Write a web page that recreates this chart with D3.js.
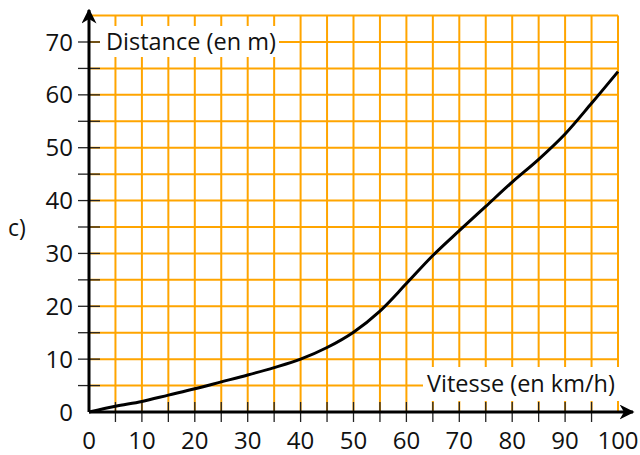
<!DOCTYPE html>
<html>
<head>
<meta charset="utf-8">
<script src="https://cdn.jsdelivr.net/npm/d3@7"></script>
<style>
  html, body { margin: 0; padding: 0; background: #fff; }
  svg { display: block; font-family: "Open Sans", sans-serif; }
</style>
</head>
<body>
<svg id="chart" width="640" height="455"></svg>
<script>
// ── Data ────────────────────────────────────────────────────────────────────
const vitesse  = [0, 5, 10, 15, 20, 25, 30, 35, 40, 45, 50, 55, 60, 65, 70, 75, 80, 85, 90, 95, 100];
const distance = [0, 1.1, 2.0, 3.2, 4.4, 5.7, 7.0, 8.4, 10.0, 12.2, 15.1, 19.1, 24.3, 29.6, 34.3, 38.9, 43.5, 47.8, 52.6, 58.4, 64.4];
const xTicks = [0, 10, 20, 30, 40, 50, 60, 70, 80, 90, 100];
const yTicks = [0, 10, 20, 30, 40, 50, 60, 70];

// ── Layout ──────────────────────────────────────────────────────────────────
const X0 = 89, X1 = 618;   // 0 → 100
const Y0 = 412, Y1 = 42;   // 0 → 70
const GRID = "#ffa500";

const svg = d3.select("#chart");
const x = d3.scaleLinear().domain([0, 100]).range([X0, X1]);
const y = d3.scaleLinear().domain([0, 70]).range([Y0, Y1]);

// grid (every 5 units)
const gx = d3.range(5, 101, 5);
const gy = d3.range(5, 76, 5);
const grid = svg.append("g");
grid.selectAll(".v").data(gx).join("line")
  .attr("x1", d => x(d)).attr("x2", d => x(d))
  .attr("y1", y(0)).attr("y2", y(75))
  .attr("stroke", GRID).attr("stroke-width", 2);
grid.selectAll(".h").data(gy).join("line")
  .attr("x1", x(0)).attr("x2", x(100))
  .attr("y1", d => y(d)).attr("y2", d => y(d))
  .attr("stroke", GRID).attr("stroke-width", 2);

// white boxes behind axis titles
svg.append("rect").attr("x", 100).attr("y", 26).attr("width", 179).attr("height", 31).attr("fill", "#fff");
svg.append("rect").attr("x", 423).attr("y", 367).attr("width", 200).attr("height", 34).attr("fill", "#fff");

// ticks
const tickG = svg.append("g").attr("stroke", "#222").attr("stroke-width", 1.3);
tickG.selectAll(".yt").data(d3.range(5, 71, 5)).join("line")
  .attr("x1", X0 - 11).attr("x2", X0 + 11)
  .attr("y1", d => y(d)).attr("y2", d => y(d));
tickG.selectAll(".xt").data(d3.range(5, 96, 5)).join("line")
  .attr("x1", d => x(d)).attr("x2", d => x(d))
  .attr("y1", Y0 - 10).attr("y2", Y0 + 10);

// axes with arrows
svg.append("defs").append("marker")
  .attr("id", "arr").attr("viewBox", "0 0 10 10")
  .attr("refX", 9).attr("refY", 5)
  .attr("markerWidth", 5).attr("markerHeight", 5)
  .attr("markerUnits", "strokeWidth")
  .attr("orient", "auto")
  .append("path").attr("d", "M0,0 L10,5 L0,10 L3,5 Z").attr("fill", "#000");

svg.append("line").attr("x1", X0).attr("x2", 633).attr("y1", Y0).attr("y2", Y0)
  .attr("stroke", "#000").attr("stroke-width", 3).attr("marker-end", "url(#arr)");
svg.append("line").attr("x1", X0).attr("x2", X0).attr("y1", Y0).attr("y2", 10)
  .attr("stroke", "#000").attr("stroke-width", 3).attr("marker-end", "url(#arr)");

// curve
const line = d3.line()
  .x((d, i) => x(vitesse[i]))
  .y(d => y(d))
  .curve(d3.curveCatmullRom.alpha(0.5));
svg.append("path").datum(distance)
  .attr("d", line)
  .attr("fill", "none").attr("stroke", "#000").attr("stroke-width", 3);

// tick labels
svg.selectAll(".xl").data(xTicks).join("text")
  .attr("x", d => x(d)).attr("y", 449)
  .attr("text-anchor", "middle").attr("font-size", 24).attr("fill", "#111")
  .text(d => d);
svg.selectAll(".yl").data(yTicks).join("text")
  .attr("x", 73).attr("y", d => y(d) + 8.5)
  .attr("text-anchor", "end").attr("font-size", 24).attr("fill", "#111")
  .text(d => d);

// titles
svg.append("text").attr("x", 106).attr("y", 50).attr("font-size", 23.5).attr("fill", "#111")
  .text("Distance (en m)");
svg.append("text").attr("x", 427).attr("y", 392).attr("font-size", 23.5).attr("fill", "#111")
  .text("Vitesse (en km/h)");
svg.append("text").attr("x", 8).attr("y", 236).attr("font-size", 23).attr("fill", "#111")
  .text("c)");
</script>
</body>
</html>
